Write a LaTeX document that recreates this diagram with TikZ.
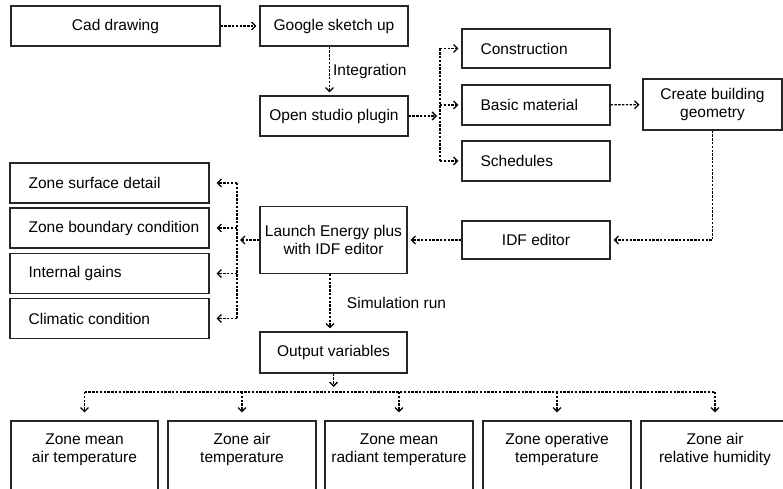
\documentclass[tikz,border=0pt]{standalone}
\usepackage{fontspec}
\setmainfont{Liberation Sans}
\usetikzlibrary{arrows.meta}

\begin{document}
\begin{tikzpicture}[x=1pt,y=-1pt,font=\fontsize{15.5}{18}\selectfont,
    box/.style={draw=black!85,line width=1.1pt,inner sep=0pt,minimum width=148pt,minimum height=40pt,align=center},
    lbox/.style={box,label={[anchor=west,xshift=19pt,inner sep=0pt]west:#1}},
    obox/.style={box,minimum height=70pt,label={[anchor=north,yshift=-13pt,inner sep=0pt,align=center]north:#1}},
    flow/.style={line width=1.3pt,dash pattern=on 2.4pt off 1.4pt},
    arr/.style={flow,-{Straight Barb[length=4pt,width=8pt]},shorten >=3pt}]
        \useasboundingbox (0,0) rectangle (783,489);

        \node[box,minimum width=209pt] (cad) at (115.5,26){Cad drawing};
        \node[box] (sketch) at (334,26){Google sketch up};
        \node[box] (plugin) at (334,116){Open studio plugin};
        \node[lbox=Construction,minimum height=39pt] (constr) at (536,48.5){};
        \node[lbox=Basic material] (material) at (536,105){};
        \node[lbox=Schedules] (sched) at (536,161){};
        \node[box,minimum width=139pt,minimum height=51pt] (geom) at (712.5,104.5){Create building\\geometry};
        \node[box,minimum height=38pt] (idf) at (536,240){IDF editor};
        \node[box,minimum width=147pt,minimum height=67pt] (launch) at (333.5,240){Launch Energy plus\\with IDF editor};
        \node[box,minimum width=147pt,minimum height=41pt] (output) at (333.5,352.5){Output variables};

        \node[lbox=Zone surface detail,minimum width=199pt] (surface) at (109.5,183){};
        \node[lbox=Zone boundary condition,minimum width=199pt] (boundary) at (109.5,228){};
        \node[lbox=Internal gains,minimum width=199pt] (gains) at (109.5,273.5){};
        \node[lbox=Climatic condition,minimum width=199pt] (climate) at (109.5,318.5){};

        \node[obox={Zone mean\\air temperature},minimum width=147pt] (mean) at (84.5,456){};
        \node[obox={Zone air\\temperature}] (air) at (242,456){};
        \node[obox={Zone mean\\radiant temperature}] (radiant) at (399,456){};
        \node[obox={Zone operative\\temperature}] (operative) at (557,456){};
        \node[obox={Zone air\\relative humidity}] (humid) at (715,456){};

        \coordinate (mbus) at (440,116);
        \coordinate (lbus) at (237,240);
        \coordinate (obus) at (333.5,392);

        \draw[arr] (cad) -- (sketch);
        \draw[arr] ([xshift=-4.5pt]sketch.south) -- node[right,inner sep=3pt]{Integration} ([xshift=-4.5pt]plugin.north);
        \draw[arr] (plugin) -- (mbus);
        \draw[flow] (mbus |- constr) -- (mbus |- sched);
        \foreach \b in {constr,material,sched}
            \draw[arr] (mbus |- \b) -- (\b);
        \draw[arr] (material) -- (geom);
        \draw[arr] (geom) |- (idf);
        \draw[arr] (idf) -- (launch);
        \draw[arr] (launch) -- (lbus);
        \draw[flow] (lbus |- surface) -- (lbus |- climate);
        \foreach \b in {surface,boundary,gains,climate}
            \draw[arr,shorten >=7pt] (lbus |- \b) -- (\b);
        \draw[arr] ([xshift=-3.5pt]launch.south) -- node[right,xshift=13pt]{Simulation run} ([xshift=-3.5pt]output.north);
        \draw[arr,shorten >=5pt] (output) -- (obus);
        \draw[flow] (obus -| mean) -- (obus -| humid);
        \foreach \b in {mean,air,radiant,operative,humid}
            \draw[arr,shorten >=8pt] (obus -| \b) -- (\b);
    \end{tikzpicture}
\end{document}
